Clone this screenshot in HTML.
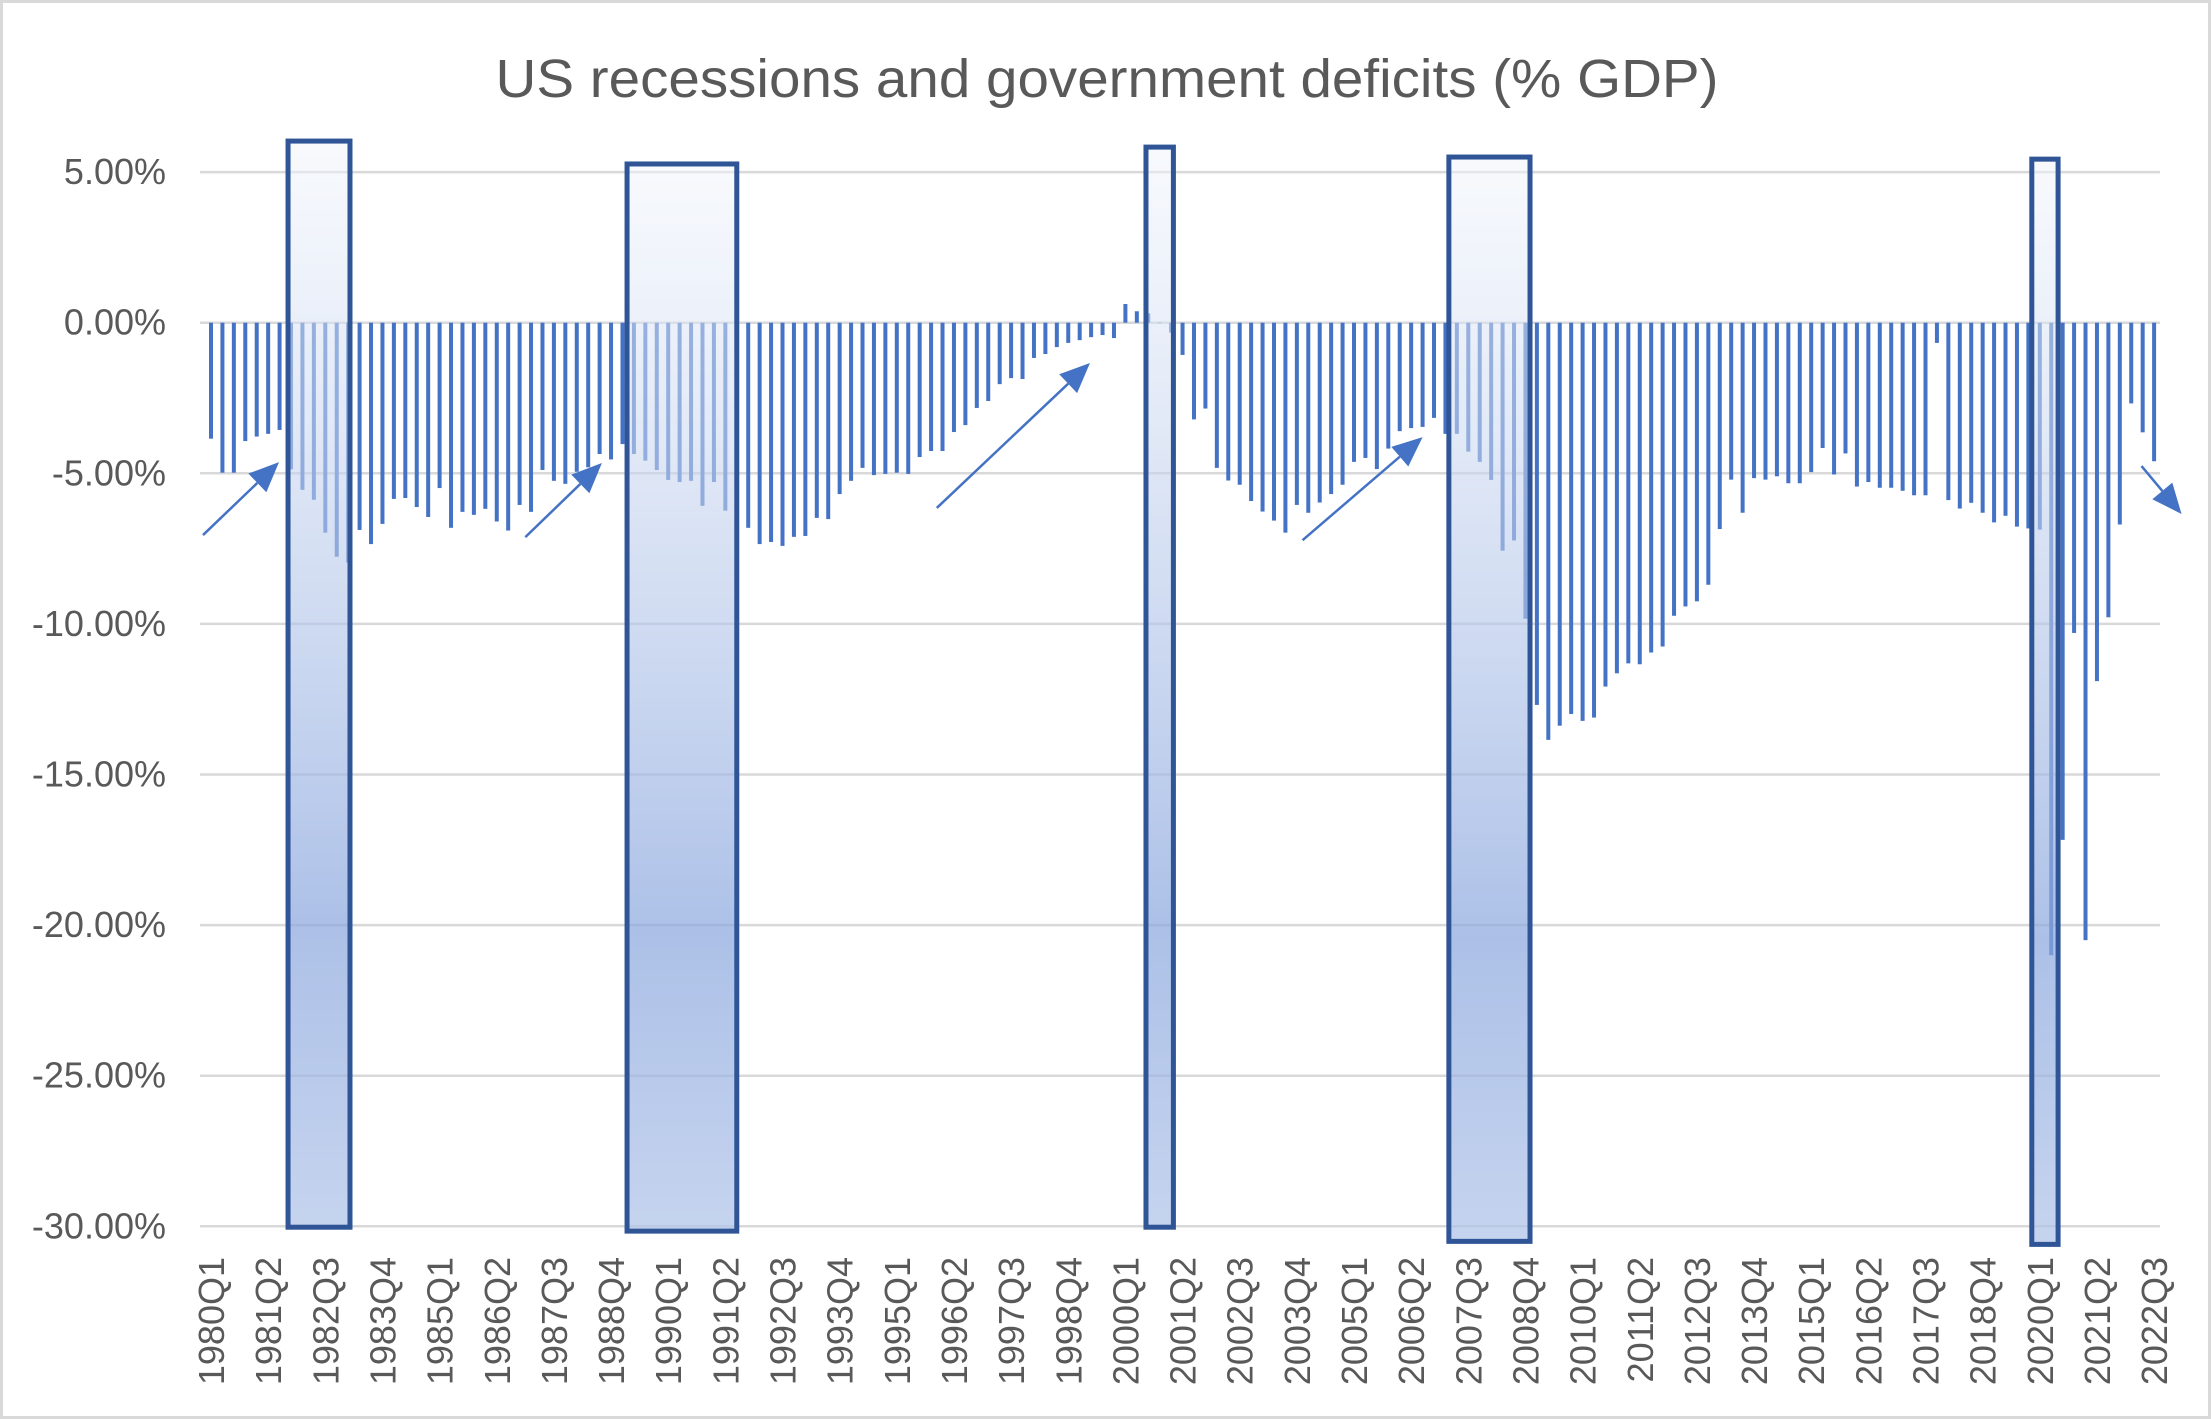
<!DOCTYPE html>
<html><head><meta charset="utf-8">
<style>
html,body{margin:0;padding:0;background:#fff;}
svg{display:block;}
text{font-family:"Liberation Sans",sans-serif;fill:#595959;}
</style></head>
<body>
<svg id="chart" width="2211" height="1419" viewBox="0 0 2211 1419" xmlns="http://www.w3.org/2000/svg">
<defs>
<linearGradient id="recGrad" x1="0" y1="0" x2="0" y2="1">
<stop offset="0" stop-color="rgb(240,244,251)" stop-opacity="0.5"/>
<stop offset="0.72" stop-color="rgb(140,168,222)" stop-opacity="0.72"/>
<stop offset="1" stop-color="rgb(175,195,232)" stop-opacity="0.72"/>
</linearGradient>
</defs>
<rect x="1.5" y="1.5" width="2208" height="1416" fill="#fff" stroke="#d9d9d9" stroke-width="3"/>
<text x="1107" y="97" text-anchor="middle" font-size="54" textLength="1223" lengthAdjust="spacingAndGlyphs">US recessions and government deficits (% GDP)</text>
<g id="grid"></g><g id="ylabels"></g><g id="bars"></g><g id="boxes"></g><g id="arrows"></g><g id="xlabels"></g>
</svg>
<script>
const startYear = 1980;
const yTicks = [5, 0, -5, -10, -15, -20, -25, -30];
const yTickLabels = ["5.00%","0.00%","-5.00%","-10.00%","-15.00%","-20.00%","-25.00%","-30.00%"];
const deficits = [
-3.85,-4.98,-4.98,-3.93,-3.78,-3.69,-3.56,-4.87,-5.55,-5.88,
-6.97,-7.77,-7.96,-6.88,-7.35,-6.68,-5.85,-5.82,-6.12,-6.45,
-5.49,-6.81,-6.28,-6.38,-6.18,-6.60,-6.90,-6.05,-6.28,-4.89,
-5.25,-5.35,-4.95,-4.80,-4.36,-4.54,-4.03,-4.36,-4.58,-4.89,
-5.22,-5.29,-5.25,-6.08,-5.29,-6.24,-6.30,-6.81,-7.35,-7.28,
-7.41,-7.11,-7.08,-6.48,-6.52,-5.69,-5.25,-4.82,-5.06,-5.02,
-4.98,-5.02,-4.46,-4.26,-4.26,-3.63,-3.40,-2.83,-2.60,-2.04,
-1.84,-1.87,-1.17,-1.04,-0.81,-0.67,-0.58,-0.48,-0.41,-0.51,
0.62,0.38,0.31,0.0,-0.33,-1.07,-3.21,-2.85,-4.82,-5.24,
-5.38,-5.92,-6.27,-6.57,-6.97,-6.05,-6.31,-5.97,-5.69,-5.38,
-4.62,-4.49,-4.86,-4.18,-3.60,-3.50,-3.46,-3.16,-3.69,-3.69,
-4.28,-4.62,-5.22,-7.57,-7.23,-9.83,-12.69,-13.85,-13.38,-12.99,
-13.22,-13.11,-12.08,-11.64,-11.31,-11.34,-10.95,-10.75,-9.73,-9.42,
-9.25,-8.70,-6.85,-5.21,-6.31,-5.16,-5.21,-5.10,-5.33,-5.33,
-4.96,-4.16,-5.04,-4.34,-5.44,-5.29,-5.48,-5.48,-5.58,-5.73,
-5.73,-0.67,-5.89,-6.17,-5.98,-6.31,-6.63,-6.41,-6.77,-6.83,
-6.87,-21.0,-17.17,-10.3,-20.5,-11.9,-9.78,-6.70,-2.68,-3.64,-4.60];
const recStart = [6.74, 36.4, 81.8, 108.3, 159.3];
const recEnd = [12.16, 46.0, 84.2, 115.4, 161.6];
const recTop = [6.03, 5.27, 5.83, 5.5, 5.43];
const recBottom = [-30.03, -30.16, -30.03, -30.5, -30.6];
const arrowFromIdx = [-0.7, 27.5, 63.5, 95.5, 168.9];
const arrowFromVal = [-7.05, -7.12, -6.15, -7.22, -4.76];
const arrowToIdx = [5.95, 34.2, 76.9, 106.0, 172.4];
const arrowToVal = [-4.63, -4.66, -1.34, -3.80, -6.35];

const NS = "http://www.w3.org/2000/svg";
const X0 = 211, DX = 11.43, Y0 = 322.7, PY = 30.12;
const xs = i => X0 + DX * i;
const ys = v => Y0 - v * PY;
function mk(tag, attrs, parent){const e=document.createElementNS(NS,tag);for(const k in attrs)e.setAttribute(k,attrs[k]);document.getElementById(parent).appendChild(e);return e;}

yTicks.forEach((t,i)=>{
  const g = mk("line",{x1:200,x2:2160,y1:ys(t),y2:ys(t),stroke:"#d9d9d9","stroke-width":2.5},"grid");
  
  
  const l = mk("text",{x:166,y:ys(t)+12,"text-anchor":"end","font-size":36},"ylabels");
  l.textContent = yTickLabels[i];
  
  
});
deficits.forEach((v,i)=>{
  const y1 = Math.min(ys(0), ys(v)), h = Math.abs(ys(v)-ys(0));
  const b = mk("rect",{x:xs(i)-2,y:y1,width:4,height:Math.max(h,0.5),fill:"#4472c4"},"bars");
  
  
  if(i%5===0){
    const yr = startYear + Math.floor(i/4), q = i%4+1;
    const t = mk("text",{x:0,y:0,"text-anchor":"end","font-size":36,transform:"translate("+(xs(i)+13)+",1257) rotate(-90)"},"xlabels");
    t.textContent = yr+"Q"+q;
    
    
  }
});
recStart.forEach((s,i)=>{
  const x1 = X0 + DX*s, x2 = X0 + DX*recEnd[i];
  const r = mk("rect",{x:x1,y:ys(recTop[i]),width:x2-x1,height:ys(recBottom[i])-ys(recTop[i]),fill:"url(#recGrad)",stroke:"#2f5597","stroke-width":5},"boxes");
  
  
});
arrowFromIdx.forEach((f,i)=>{
  const x1=X0+DX*f, y1=ys(arrowFromVal[i]), x2=X0+DX*arrowToIdx[i], y2=ys(arrowToVal[i]);
  const dx=x2-x1, dy=y2-y1, L=Math.hypot(dx,dy), ux=dx/L, uy=dy/L;
  const hl=30, hw=13, bx=x2-ux*hl, by=y2-uy*hl;
  const ln = mk("line",{x1:x1,y1:y1,x2:bx,y2:by,stroke:"#4472c4","stroke-width":2.5},"arrows");
  
  
  const hd = mk("polygon",{points:x2+","+y2+" "+(bx-uy*hw)+","+(by+ux*hw)+" "+(bx+uy*hw)+","+(by-ux*hw),fill:"#4472c4"},"arrows");
  
  
});
</script>
</body></html>
